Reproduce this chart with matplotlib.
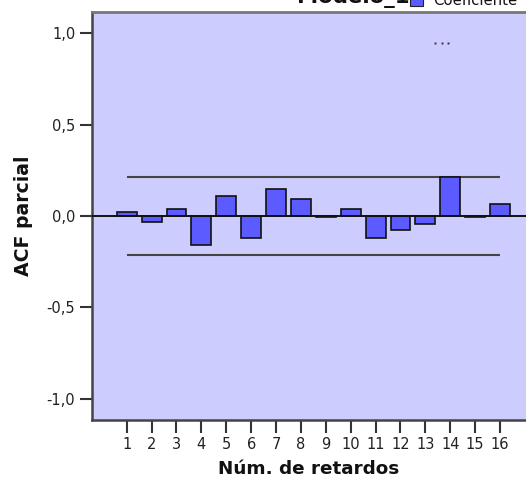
import matplotlib
matplotlib.use("Agg")
import matplotlib.pyplot as plt
from matplotlib.patches import Rectangle
from matplotlib.lines import Line2D
from matplotlib.ticker import FuncFormatter

plt.rcParams['font.family'] = ['DejaVu Sans']

# Partial autocorrelation by lag
lags = list(range(1, 17))
pacf = [0.022, -0.033, 0.037, -0.160, 0.109, -0.122, 0.150, 0.091,
        -0.004, 0.037, -0.122, -0.074, -0.042, 0.215, -0.004, 0.068]
conf_upper = 0.215
conf_lower = -0.215
y_ticks = [-1.0, -0.5, 0.0, 0.5, 1.0]

W, H = 526, 490
fig = plt.figure(figsize=(W / 100, H / 100), dpi=100)
fig.patch.set_facecolor('white')

left_px, right_px, top_px, bottom_px = 92, 526, 12, 420
ax = fig.add_axes([left_px / W, 1 - bottom_px / H,
                   (right_px - left_px) / W, (bottom_px - top_px) / H])
ax.set_facecolor('#CCCCFF')

ax.bar(lags, pacf, width=0.8, color='#5B5BFF', edgecolor='#111111',
       linewidth=1.2, zorder=3)
ax.axhline(0, color='#111111', linewidth=1.4, zorder=4)
ax.hlines([conf_upper, conf_lower], lags[0], lags[-1], color='#444444',
          linewidth=1.5, zorder=2)

ax.set_xlim(-0.394, 17.044)
ax.set_ylim(-1.117, 1.117)
ax.set_xticks(lags)
ax.set_yticks(y_ticks)
ax.yaxis.set_major_formatter(FuncFormatter(lambda v, p: f"{v:.1f}".replace('.', ',')))

ax.tick_params(axis='both', length=9, width=1.5, color='#333333',
               labelsize=10.5, labelcolor='#222222', pad=3)

for side in ('left', 'bottom'):
    ax.spines[side].set_color('#444444')
    ax.spines[side].set_linewidth(1.8)
ax.spines['top'].set_color('#777777')
ax.spines['top'].set_linewidth(2.0)
ax.spines['right'].set_visible(False)

ax.set_xlabel('Núm. de retardos', fontsize=13.2, fontweight='bold',
              color='#111111', labelpad=6)
ax.set_ylabel('ACF parcial', fontsize=13.6, fontweight='bold',
              color='#111111', labelpad=10)

# Small dotted marker in the upper area
fig.add_artist(Line2D([435 / W, 442 / W, 448 / W], [1 - 43 / H] * 3,
                      transform=fig.transFigure, linestyle='none',
                      marker='s', markersize=1.4, color='#333333',
                      markeredgewidth=0))

# Title and legend at the top edge
fig.text(297 / W, 1 - 2.5 / H, 'Modelo_1', fontsize=15.3, fontweight='bold',
         color='#111111', ha='left', va='baseline')
fig.patches.append(Rectangle((410 / W, 1 - 6 / H), 13 / W, 13 / H,
                             transform=fig.transFigure, facecolor='#5B5BFF',
                             edgecolor='#222222', linewidth=0.8, zorder=5))
fig.text(433 / W, 1 - 5 / H, 'Coeficiente', fontsize=10.7, color='#111111',
         ha='left', va='baseline')

fig.savefig('out.png', dpi=100)
